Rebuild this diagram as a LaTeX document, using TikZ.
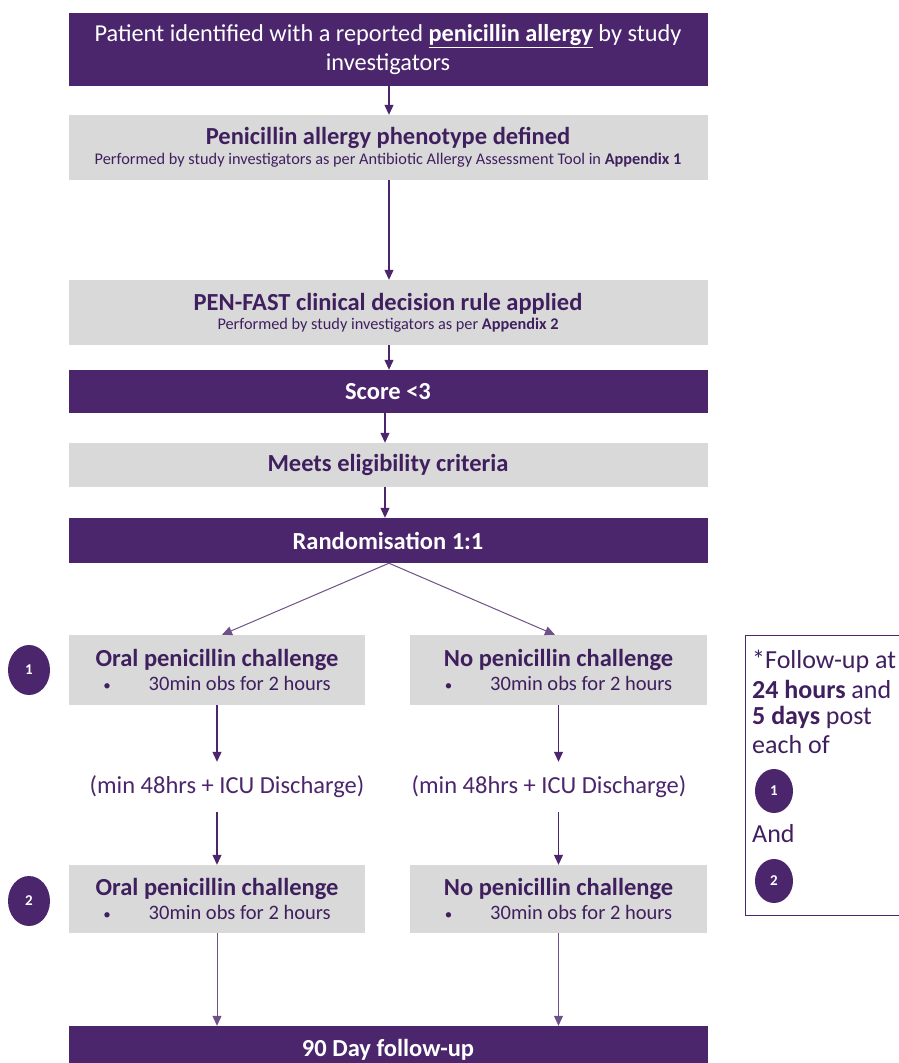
\documentclass[tikz,border=0pt]{standalone}
\usepackage{fontspec}
\setmainfont{Carlito}
\usetikzlibrary{arrows.meta,shapes.geometric}
\definecolor{pp}{HTML}{4B266C}
\definecolor{ppt}{HTML}{3F1F5E}
\definecolor{gb}{HTML}{D9D9D9}
\newcommand{\ttl}{\fontsize{24.5}{26}\selectfont\bfseries}
\newcommand{\subt}{\fontsize{16.3}{22}\selectfont\mdseries}
\newcommand{\bul}{\fontsize{20.5}{25}\selectfont\mdseries}
\newcommand{\bdot}{{\fontsize{15}{15}\selectfont\textbullet}}
\begin{document}
\begin{tikzpicture}[x=1pt,y=-1pt,
  pbox/.style={fill=pp,text=white,inner sep=0pt,align=center,font=\fontsize{24.3}{29}\selectfont},
  gbox/.style={fill=gb,text=ppt,inner sep=0pt,align=center},
  arr/.style={draw=pp,line width=1.1pt,-{Triangle[length=10pt,width=9pt]}},
  ln/.style={draw=pp!80,line width=1pt},
  num/.style={ellipse,fill=pp,text=white,minimum width=42pt,minimum height=50pt,inner sep=0pt,font=\fontsize{15}{15}\selectfont\bfseries},
  numsm/.style={ellipse,fill=pp,text=white,minimum width=38pt,minimum height=44pt,inner sep=0pt,font=\fontsize{15}{15}\selectfont\bfseries},
  mid/.style={text=pp,inner sep=0pt,minimum height=50pt,font=\fontsize{24.5}{26}\selectfont},
  fu/.style={text=ppt,inner sep=0pt,anchor=west,font=\fontsize{26}{28}\selectfont},
]
\useasboundingbox (0,0) rectangle (899,1063);

\node[pbox,minimum width=639pt,minimum height=73pt] (n1) at (388,49.5)
  {Patient identified with a reported \textbf{\underline{penicillin allergy}} by study\\investigators};
\node[gbox,minimum width=639pt,minimum height=65pt] (n2) at (388,147.5)
  {\ttl Penicillin allergy phenotype defined\\[3pt]\subt Performed by study investigators as per Antibiotic Allergy Assessment Tool in \textbf{Appendix 1}};
\node[gbox,minimum width=639pt,minimum height=65pt] (n3) at (388,312.5)
  {\ttl PEN-FAST clinical decision rule applied\\[3pt]\subt Performed by study investigators as per \textbf{Appendix 2}};
\node[pbox,minimum width=639pt,minimum height=43pt,font=\ttl] (n4) at (388,391.5) {Score <3};
\node[gbox,minimum width=639pt,minimum height=44pt,font=\ttl] (n5) at (388,465) {Meets eligibility criteria};
\node[pbox,minimum width=639pt,minimum height=45pt,font=\ttl] (n6) at (388,540.5) {Randomisation 1:1};

\node[gbox,minimum width=296pt,minimum height=70pt] (l1) at (217,670)
  {\ttl Oral penicillin challenge\\[4pt]\bul \bdot\hspace{38pt}30min obs for 2 hours};
\node[gbox,minimum width=297pt,minimum height=70pt] (r1) at (558.5,670)
  {\ttl No penicillin challenge\\[4pt]\bul \bdot\hspace{38pt}30min obs for 2 hours};
\node[num] (c1) at (29,670) {1};

\node[mid] (lm) at (227,787) {(min 48hrs + ICU Discharge)};
\node[mid] (rm) at (549,787) {(min 48hrs + ICU Discharge)};

\node[gbox,minimum width=296pt,minimum height=68pt] (l2) at (217,899)
  {\ttl Oral penicillin challenge\\[4pt]\bul \bdot\hspace{38pt}30min obs for 2 hours};
\node[gbox,minimum width=297pt,minimum height=68pt] (r2) at (558.5,899)
  {\ttl No penicillin challenge\\[4pt]\bul \bdot\hspace{38pt}30min obs for 2 hours};
\node[num] (c2) at (29,901) {2};

\node[pbox,minimum width=639pt,minimum height=48pt,font=\ttl] (n7) at (388,1050) {90 Day follow-up};

% follow-up note
\node[draw=pp,line width=0.9pt,minimum width=170pt,minimum height=280pt,inner sep=0pt] (fb) at (830,775) {};
\node[fu] (f1) at (752,661) {*Follow-up at};
\node[fu] (f2) at (752,689) {\textbf{24 hours} and};
\node[fu] (f3) at (752,717) {\textbf{5 days} post};
\node[fu] (f4) at (752,745) {each of};
\node[numsm] (fc1) at (774,791) {1};
\node[fu] (f5) at (752,834) {And};
\node[numsm] (fc2) at (774,881) {2};

% connectors
\draw[arr] ([xshift=1pt]n1.south) -- ([xshift=1pt]n2.north);
\draw[arr] ([xshift=1pt]n2.south) -- ([xshift=1pt]n3.north);
\draw[arr] ([xshift=1pt]n3.south) -- ([xshift=1pt]n4.north);
\draw[arr] ([xshift=-3pt]n4.south) -- ([xshift=-3pt]n5.north);
\draw[arr] ([xshift=-3pt]n5.south) -- ([xshift=-3pt]n6.north);
\draw[ln,-{Triangle[length=10pt,width=9pt]}] ([xshift=1pt]n6.south) -- ([xshift=5pt]l1.north);
\draw[ln,-{Triangle[length=10pt,width=9pt]}] ([xshift=1pt]n6.south) -- ([xshift=-3.5pt]r1.north);
\draw[arr] (l1.south) -- (l1.south |- lm.north);
\draw[arr] (r1.south) -- (r1.south |- rm.north);
\draw[arr] (l1.south |- lm.south) -- (l2.north);
\draw[arr] (r1.south |- rm.south) -- (r2.north);
\draw[ln,-{Triangle[length=10pt,width=9pt]}] (l2.south) -- (l2.south |- n7.north);
\draw[ln,-{Triangle[length=10pt,width=9pt]}] (r2.south) -- (r2.south |- n7.north);
\end{tikzpicture}
\end{document}
